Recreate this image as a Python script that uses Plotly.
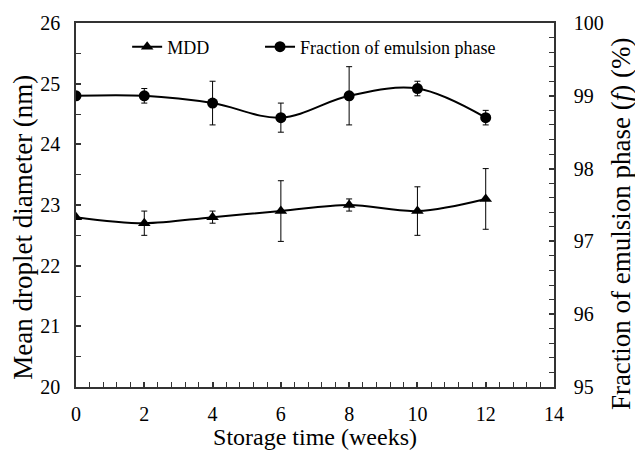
import plotly.graph_objects as go

weeks = [0, 2, 4, 6, 8, 10, 12]
mdd = [22.8, 22.7, 22.8, 22.9, 23.0, 22.9, 23.1]
mdd_err = [0.0, 0.2, 0.1, 0.5, 0.1, 0.4, 0.5]
frac = [99.0, 99.0, 98.9, 98.7, 99.0, 99.1, 98.7]
frac_err = [0.0, 0.1, 0.3, 0.2, 0.4, 0.1, 0.1]

x_ticks = [0, 2, 4, 6, 8, 10, 12, 14]
y1_ticks = [20, 21, 22, 23, 24, 25, 26]
y2_ticks = [95, 96, 97, 98, 99, 100]

FONT = "Liberation Serif"

fig = go.Figure()
fig.add_trace(go.Scatter(
    x=weeks, y=mdd, name="MDD", mode="lines+markers", legend="legend",
    line=dict(color="black", width=2, shape="spline"),
    marker=dict(symbol="triangle-up", size=11, color="black"),
    error_y=dict(type="data", array=mdd_err, visible=True, color="black", thickness=1, width=3),
))
fig.add_trace(go.Scatter(
    x=weeks, y=frac, name="Fraction of emulsion phase", mode="lines+markers",
    yaxis="y2", legend="legend2",
    line=dict(color="black", width=2, shape="spline"),
    marker=dict(symbol="circle", size=11, color="black"),
    error_y=dict(type="data", array=frac_err, visible=True, color="black", thickness=1, width=3),
))

axis_common = dict(
    showline=True, linecolor="#333", linewidth=1.5, ticks="inside", ticklen=5,
    tickcolor="#333", tickwidth=1.5, showgrid=False, zeroline=False,
    automargin=False,
    tickfont=dict(family=FONT, size=20, color="black"),
)

legend_common = dict(
    orientation="h", y=0.934, xanchor="left", yanchor="middle",
    font=dict(family=FONT, size=18, color="black"), bgcolor="rgba(0,0,0,0)",
    itemwidth=30,
)

fig.update_layout(
    width=635, height=450,
    margin=dict(l=76, r=81, t=23, b=63),
    paper_bgcolor="white", plot_bgcolor="white",
    font=dict(family=FONT, color="black"),
    xaxis=dict(
        range=[0, 14], tickvals=x_ticks, ticktext=[str(v) for v in x_ticks],
        mirror=True, ticklabelstandoff=8,
        minor=dict(dtick=0.4, tick0=0, ticks="inside", ticklen=5, tickcolor="#333", tickwidth=1.2),
        title=dict(text="Storage time (weeks)", font=dict(family=FONT, size=24), standoff=4),
        **axis_common,
    ),
    yaxis=dict(
        range=[20, 26], tickvals=y1_ticks, ticktext=[str(v) for v in y1_ticks],
        ticklabelstandoff=10,
        minor=dict(dtick=0.5, tick0=20, ticks="inside", ticklen=5, tickcolor="#333", tickwidth=1.2),
        **axis_common,
    ),
    yaxis2=dict(
        range=[95, 100], tickvals=y2_ticks, ticktext=[str(v) for v in y2_ticks],
        overlaying="y", side="right", ticklabelstandoff=14,
        minor=dict(dtick=0.2, tick0=95, ticks="inside", ticklen=5, tickcolor="#333", tickwidth=1.2),
        **axis_common,
    ),
    legend=dict(x=0.107, **legend_common),
    legend2=dict(x=0.385, **legend_common),
    showlegend=True,
    annotations=[
        dict(text="Mean droplet diameter (nm)", xref="paper", yref="paper",
             x=-0.111, y=0.44, xanchor="center", yanchor="middle", textangle=-90,
             showarrow=False, font=dict(family=FONT, size=27, color="black")),
        dict(text="Fraction of emulsion phase (<i>f</i>) (%)", xref="paper", yref="paper",
             x=1.14, y=0.45, xanchor="center", yanchor="middle", textangle=-90,
             showarrow=False, font=dict(family=FONT, size=27, color="black")),
    ],
)

fig.write_html(
    "out.html",
    config={"displayModeBar": False},
    post_script="document.body.style.margin='0';document.body.style.overflow='hidden';",
)
